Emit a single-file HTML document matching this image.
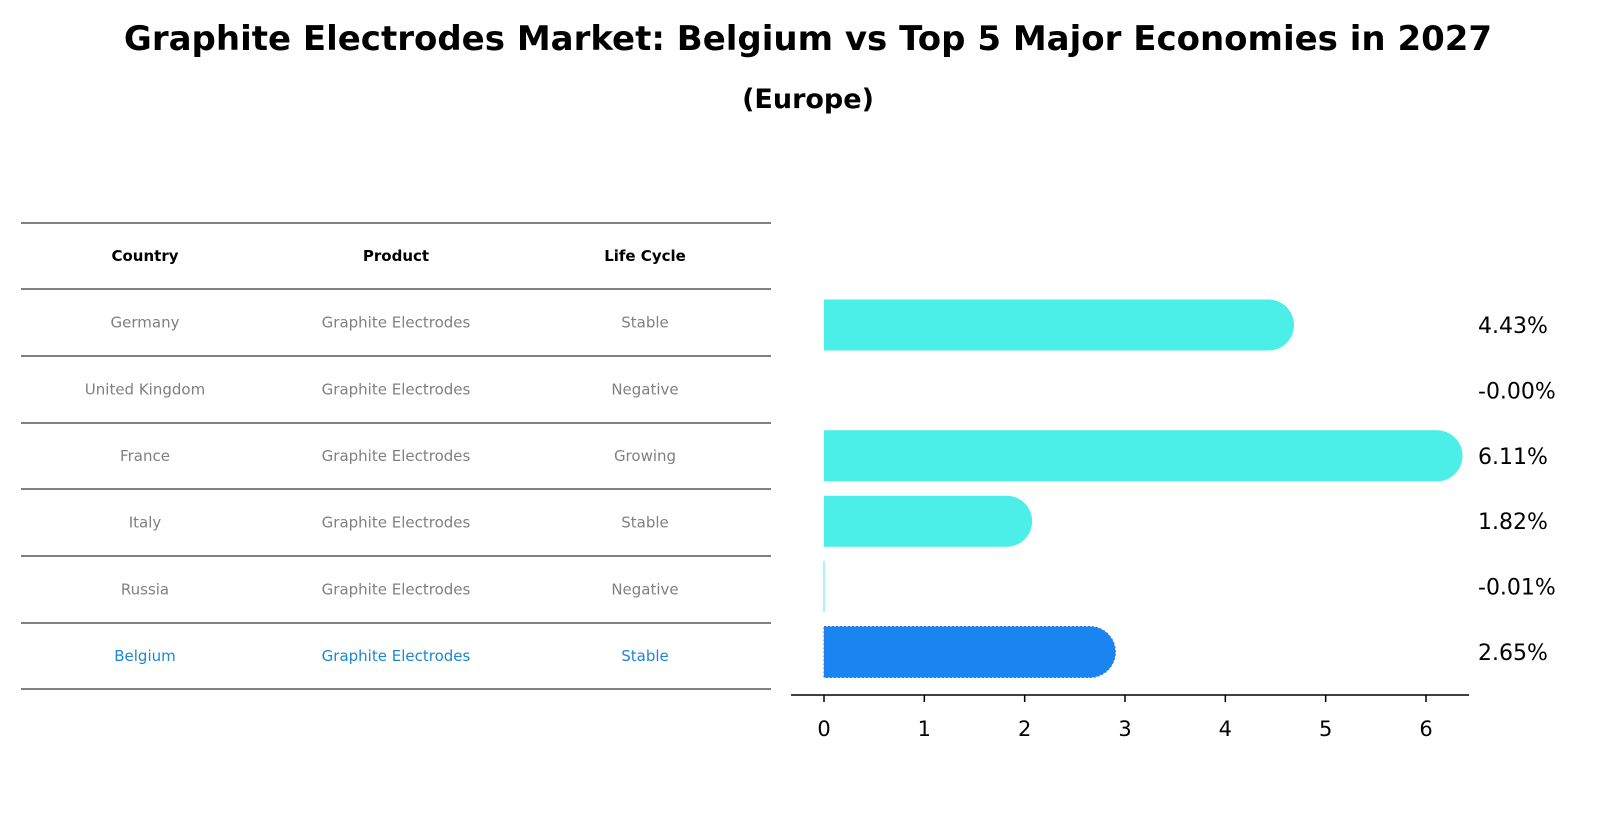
<!DOCTYPE html>
<html><head><meta charset="utf-8"><style>
body{margin:0;background:#fff;font-family:"Liberation Sans","DejaVu Sans",sans-serif;}
svg text{font-family:"DejaVu Sans","Liberation Sans",sans-serif;}
</style></head><body>
<svg id="chart" width="1609" height="823" xmlns="http://www.w3.org/2000/svg">
<text x="808" y="50" text-anchor="middle" font-size="34" font-weight="bold">Graphite Electrodes Market: Belgium vs Top 5 Major Economies in 2027</text>
<text x="808" y="108" text-anchor="middle" font-size="27" font-weight="bold">(Europe)</text>
<g id="table"></g>
<g id="bars"></g>
</svg>
<script>
const countries=["Germany","United Kingdom","France","Italy","Russia","Belgium"];
const products=["Graphite Electrodes","Graphite Electrodes","Graphite Electrodes","Graphite Electrodes","Graphite Electrodes","Graphite Electrodes"];
const lifeCycles=["Stable","Negative","Growing","Stable","Negative","Stable"];
const growth=[4.43,-0.00,6.11,1.82,-0.01,2.65];
const valueLabels=["4.43%","-0.00%","6.11%","1.82%","-0.01%","2.65%"];
const ticks=[0,1,2,3,4,5,6];
const NS="http://www.w3.org/2000/svg";
function mk(tag,attrs,parent){const e=document.createElementNS(NS,tag);for(const k in attrs)e.setAttribute(k,attrs[k]);parent.appendChild(e);return e;}
const tbl=document.getElementById('table');
const lineYs=[223,289,356,423,489,556,623,689];
lineYs.forEach((y,i)=>{const l=mk('line',{x1:21,x2:771,y1:y,y2:y,stroke:'#000','stroke-width':1},tbl);

});
const colX=[145,396,645];
["Country","Product","Life Cycle"].forEach((h,i)=>{const t=mk('text',{x:colX[i],y:261,'text-anchor':'middle','font-size':15,'font-weight':'bold'},tbl);t.textContent=h;

});
countries.forEach((c,r)=>{const y=(lineYs[r+1]+lineYs[r+2])/2+5;const col=r===5?'#1a87d8':'#808080';
[c,products[r],lifeCycles[r]].forEach((v,i)=>{const t=mk('text',{x:colX[i],y:y,'text-anchor':'middle','font-size':15,fill:col},tbl);t.textContent=v;

});});
const g=document.getElementById('bars');
const x0=824,unit=(1426-824)/6;
const xs=v=>x0+v*unit;
const rowY=i=>325+i*65.4;
const bh=51;
growth.forEach((v,i)=>{const cy=rowY(i);const isB=countries[i]==="Belgium";const fill=isB?'#1a85f0':'#4ceee8';
const a=Math.min(xs(0),xs(v)),w=Math.abs(xs(v)-xs(0));
if(w>3){const p=mk('path',{d:`M${a},${cy-bh/2} H${a+w} A${bh/2},${bh/2} 0 0 1 ${a+w},${cy+bh/2} H${a} Z`,fill:fill},g);
if(isB){p.setAttribute('stroke','#3a6fd0');p.setAttribute('stroke-dasharray','2,2');}

}
else if(v!==0&&Math.abs(v)>0.005){const p=mk('rect',{x:xs(0)-0.5,y:cy-bh/2,width:1,height:bh,fill:fill},g);

}
const t=mk('text',{x:1478,y:cy+8,'font-size':22},g);t.textContent=valueLabels[i];

});
const ax=mk('line',{x1:791,x2:1469,y1:695,y2:695,stroke:'#000','stroke-width':1.5},g);


ticks.forEach(v=>{const l=mk('line',{x1:xs(v),x2:xs(v),y1:695,y2:702,stroke:'#000','stroke-width':1.5},g);


const t=mk('text',{x:xs(v),y:736,'text-anchor':'middle','font-size':21},g);t.textContent=v;

});
</script>
</body></html>
